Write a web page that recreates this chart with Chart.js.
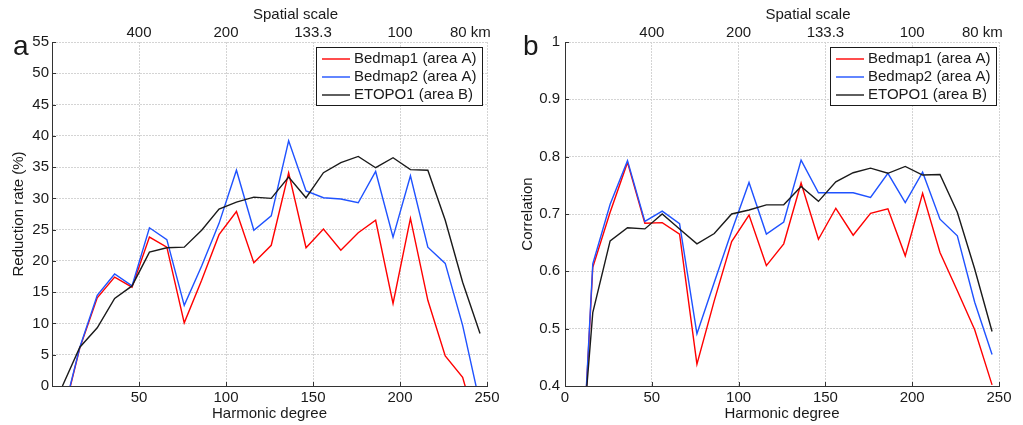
<!DOCTYPE html>
<html>
<head>
<meta charset="utf-8">
<script src="https://cdn.jsdelivr.net/npm/chart.js@4.4.1/dist/chart.umd.min.js"></script>
<style>
  html, body { margin: 0; padding: 0; background: #ffffff; }
  #wrap { position: relative; width: 1023px; height: 425px; overflow: hidden; }
  #ca { position: absolute; left: 0; top: 0; }
  #cb { position: absolute; left: 511px; top: 0; }
</style>
</head>
<body>
<div id="wrap">
  <canvas id="ca" width="511" height="425"></canvas>
  <canvas id="cb" width="512" height="425"></canvas>
</div>
<script>
// ---------------- data ----------------
const harmonicDegrees = [6, 16, 26, 36, 46, 56, 66, 76, 86, 96, 106, 116, 126, 136, 146, 156, 166, 176, 186, 196, 206, 216, 226, 236, 246];

const bedmap1Reduction = [-5.2, 6.1, 14.1, 17.4, 15.8, 23.8, 22.2, 10.1, 16.9, 24.2, 27.9, 19.7, 22.5, 34.1, 22.1, 25.1, 21.7, 24.5, 26.5, 13.2, 26.8, 13.7, 4.8, 1.4, -8.4];
const bedmap2Reduction = [-4.9, 6.2, 14.5, 17.9, 16.0, 25.3, 23.4, 12.9, 19.2, 26.0, 34.5, 24.9, 27.2, 39.2, 31.2, 30.1, 29.9, 29.3, 34.3, 23.8, 33.6, 22.2, 19.6, 9.7, -2.9];
const etopo1Reduction  = [0.0, 6.2, 9.3, 14.0, 16.0, 21.4, 22.1, 22.2, 24.9, 28.3, 29.4, 30.2, 30.0, 33.4, 30.1, 34.1, 35.7, 36.7, 34.9, 36.5, 34.6, 34.5, 26.5, 16.6, 8.4];

const bedmap1Correlation = [0.03, 0.607, 0.703, 0.790, 0.684, 0.685, 0.665, 0.438, 0.549, 0.652, 0.698, 0.610, 0.648, 0.754, 0.656, 0.710, 0.663, 0.701, 0.709, 0.627, 0.736, 0.633, 0.566, 0.498, 0.402];
const bedmap2Correlation = [0.03, 0.613, 0.717, 0.793, 0.687, 0.705, 0.683, 0.491, 0.581, 0.670, 0.755, 0.665, 0.686, 0.794, 0.737, 0.737, 0.737, 0.729, 0.771, 0.720, 0.773, 0.691, 0.662, 0.546, 0.455];
const etopo1Correlation  = [0.15, 0.528, 0.653, 0.676, 0.674, 0.700, 0.674, 0.648, 0.666, 0.700, 0.707, 0.716, 0.716, 0.748, 0.722, 0.756, 0.772, 0.780, 0.771, 0.783, 0.768, 0.769, 0.703, 0.604, 0.495];

const seriesLabels = ['Bedmap1 (area A)', 'Bedmap2 (area A)', 'ETOPO1 (area B)'];
const seriesColors = ['#ff0000', '#1f52ff', '#1a1a1a'];

const degreeTicks = [0, 50, 100, 150, 200, 250];
const spatialScaleLabels = ['', '400', '200', '133.3', '100', '80 km'];
const reductionTicks = [0, 5, 10, 15, 20, 25, 30, 35, 40, 45, 50, 55];
const correlationTicks = [0.4, 0.5, 0.6, 0.7, 0.8, 0.9, 1];

// ---------------- styling ----------------
const FONT_FAMILY = '"Liberation Sans", Arial, sans-serif';
const TEXT_COLOR = '#1a1a1a';
const AXIS_COLOR = '#333333';
const GRID_COLOR = '#d4d4d4';

function toPoints(values) {
  return harmonicDegrees.map((d, i) => ({ x: d, y: values[i] }));
}

const decorPlugin = {
  id: 'decor',
  afterDraw(chart, args, o) {
    const ctx = chart.ctx;
    const ca = chart.chartArea;
    const xs = chart.scales.x;
    const ys = chart.scales.y;
    ctx.save();
    // inward tick marks
    ctx.strokeStyle = AXIS_COLOR;
    ctx.lineWidth = 1;
    ctx.beginPath();
    degreeTicks.forEach(v => {
      const px = Math.round(xs.getPixelForValue(v)) + 0.5;
      ctx.moveTo(px, ca.bottom);
      ctx.lineTo(px, ca.bottom - 4);
    });
    o.yTicks.forEach(v => {
      const py = Math.round(ys.getPixelForValue(v)) + 0.5;
      ctx.moveTo(ca.left, py);
      ctx.lineTo(ca.left + 4, py);
    });
    ctx.stroke();

    // top axis title
    ctx.fillStyle = TEXT_COLOR;
    ctx.font = '15px ' + FONT_FAMILY;
    ctx.textAlign = 'center';
    ctx.textBaseline = 'middle';
    ctx.fillText('Spatial scale', (ca.left + ca.right) / 2 + 26, 15);

    // panel letter
    ctx.font = '28px ' + FONT_FAMILY;
    ctx.textAlign = 'left';
    ctx.textBaseline = 'alphabetic';
    ctx.fillText(o.letter, o.letterX, 55);

    // legend box
    ctx.font = '15px ' + FONT_FAMILY;
    const ds = chart.data.datasets;
    let maxW = 0;
    ds.forEach(d => { maxW = Math.max(maxW, ctx.measureText(d.label).width); });
    const boxW = Math.round(38 + maxW + 5);
    const boxH = 58;
    const boxR = Math.round(ca.right - o.legendGap);
    const boxL = boxR - boxW;
    const boxT = Math.round(ca.top + 5);
    ctx.fillStyle = '#ffffff';
    ctx.fillRect(boxL, boxT, boxW, boxH);
    ctx.strokeStyle = '#1a1a1a';
    ctx.lineWidth = 1;
    ctx.strokeRect(boxL + 0.5, boxT + 0.5, boxW, boxH);
    ds.forEach((d, i) => {
      const cy = boxT + 12 + i * 18;
      ctx.strokeStyle = d.borderColor;
      ctx.lineWidth = 1.4;
      ctx.beginPath();
      ctx.moveTo(boxL + 6, cy);
      ctx.lineTo(boxL + 34, cy);
      ctx.stroke();
      ctx.fillStyle = TEXT_COLOR;
      ctx.textAlign = 'left';
      ctx.textBaseline = 'middle';
      ctx.fillText(d.label, boxL + 38, cy);
    });
    ctx.restore();
  }
};

function buildChart(canvasId, cfg) {
  const tickFont = { family: FONT_FAMILY, size: 15 };
  return new Chart(document.getElementById(canvasId), {
    type: 'line',
    data: {
      datasets: cfg.values.map((vals, i) => ({
        label: seriesLabels[i],
        data: toPoints(vals),
        borderColor: seriesColors[i],
        backgroundColor: seriesColors[i],
        borderWidth: 1.4,
        pointRadius: 0,
        tension: 0,
        fill: false,
        order: 3 - i
      }))
    },
    options: {
      responsive: false,
      animation: false,
      events: [],
      layout: { padding: { left: 0, right: 24, top: 0, bottom: 0 } },
      plugins: {
        legend: { display: false },
        tooltip: { enabled: false },
        decor: { letter: cfg.letter, letterX: cfg.letterX, legendGap: cfg.legendGap, yTicks: cfg.yTicks }
      },
      scales: {
        x: {
          type: 'linear', position: 'bottom', min: 0, max: 250,
          afterBuildTicks: s => { s.ticks = degreeTicks.map(v => ({ value: v })); },
          ticks: {
            autoSkip: false, maxRotation: 0, padding: 2.5, font: tickFont, color: TEXT_COLOR,
            callback: v => (cfg.hideZeroX && v === 0) ? '' : String(v)
          },
          grid: { color: GRID_COLOR, lineWidth: 1, drawTicks: false },
          border: { color: AXIS_COLOR, width: 1, dash: [2, 1], z: 1 },
          title: { display: true, text: 'Harmonic degree', font: tickFont, color: TEXT_COLOR, padding: { top: 0, bottom: 2 } },
          afterFit: s => { s.height = 39; }
        },
        xTop: {
          type: 'linear', position: 'top', min: 0, max: 250,
          afterBuildTicks: s => { s.ticks = degreeTicks.map(v => ({ value: v })); },
          ticks: {
            autoSkip: false, maxRotation: 0, padding: 0.5, font: tickFont, color: TEXT_COLOR,
            callback: v => {
              const lbl = spatialScaleLabels[degreeTicks.indexOf(v)] || '';
              return lbl === '80 km' ? lbl + '        ' : lbl;
            }
          },
          grid: { display: false, drawTicks: false },
          border: { display: false },
          afterFit: s => { s.height = 42; s.paddingLeft = 0; s.paddingRight = 0; }
        },
        y: {
          type: 'linear', position: 'left', min: cfg.yMin, max: cfg.yMax,
          afterBuildTicks: s => { s.ticks = cfg.yTicks.map(v => ({ value: v })); },
          ticks: {
            padding: cfg.yPad, font: tickFont, color: TEXT_COLOR,
            callback: v => String(Math.round(v * 10) / 10)
          },
          grid: { color: GRID_COLOR, lineWidth: 1, drawTicks: false },
          border: { color: AXIS_COLOR, width: 1, dash: [2, 1], z: 1 },
          title: { display: true, text: cfg.yTitle, font: tickFont, color: TEXT_COLOR, padding: { top: cfg.yTitlePad, bottom: 0 } },
          afterFit: s => { s.width = cfg.yWidth; }
        }
      }
    },
    plugins: [decorPlugin]
  });
}

buildChart('ca', {
  values: [bedmap1Reduction, bedmap2Reduction, etopo1Reduction],
  yMin: 0, yMax: 55, yTicks: reductionTicks,
  yTitle: 'Reduction rate (%)', yTitlePad: 10, yWidth: 52, yPad: 3,
  hideZeroX: true, letter: 'a', letterX: 13, legendGap: 5
});

buildChart('cb', {
  values: [bedmap1Correlation, bedmap2Correlation, etopo1Correlation],
  yMin: 0.4, yMax: 1, yTicks: correlationTicks,
  yTitle: 'Correlation', yTitlePad: 8, yWidth: 54, yPad: 5,
  hideZeroX: false, letter: 'b', letterX: 12, legendGap: 3
});
</script>
</body>
</html>
